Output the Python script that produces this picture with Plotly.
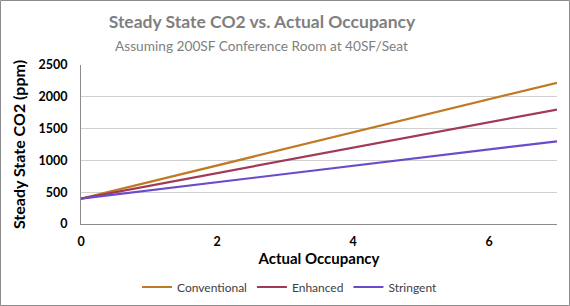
import plotly.graph_objects as go

# occupancy vs steady-state CO2 (ppm)
OCCUPANCY = [0, 1, 2, 3, 4, 5, 6, 7]
CONVENTIONAL = [400, 660, 920, 1180, 1440, 1700, 1960, 2220]
ENHANCED = [400, 600, 800, 1000, 1200, 1400, 1600, 1800]
STRINGENT = [400, 529, 657, 786, 914, 1043, 1171, 1300]

SERIES = [
    ("Conventional", CONVENTIONAL, "#C07A25"),
    ("Enhanced", ENHANCED, "#A23A55"),
    ("Stringent", STRINGENT, "#6A4BC9"),
]

FONT = "Lato, 'Open Sans', sans-serif"
TEXT = "#000000"
TITLE_GREY = "#7F7F7F"
GRID = "#D0D0D0"

W, H = 570, 306
L, R, T, B = 81, 13, 65, 82

fig = go.Figure()
for name, ys, color in SERIES:
    fig.add_trace(go.Scatter(
        x=OCCUPANCY, y=ys, mode="lines", name=name,
        line=dict(color=color, width=2.2),
    ))

pw, ph = W - L - R, H - T - B
fig.update_layout(
    width=W, height=H,
    margin=dict(l=L, r=R, t=T, b=B, autoexpand=False),
    paper_bgcolor="white", plot_bgcolor="white",
    font=dict(family=FONT, color=TEXT, size=11),
    title=dict(
        text="<b>Steady State CO2 vs. Actual Occupancy</b>",
        x=262 / W, xref="container", xanchor="center",
        y=1 - 22 / H, yref="container", yanchor="middle",
        font=dict(size=17.5, color=TITLE_GREY, family=FONT),
    ),
    annotations=[dict(
        text="Assuming 200SF Conference Room at 40SF/Seat",
        xref="paper", yref="paper",
        x=(261 - L) / pw, y=1 + (T - 45) / ph,
        xanchor="center", yanchor="middle", showarrow=False,
        font=dict(size=13.7, color=TITLE_GREY, family=FONT),
    )],
    xaxis=dict(
        range=[0, 7], tickvals=[0, 2, 4, 6], showgrid=False, zeroline=False,
        showline=True, linecolor="#8C8C8C", linewidth=1, automargin=False,
        tickfont=dict(size=12.5, color=TEXT, family=FONT, weight="bold"),
        ticklabelstandoff=6,
        title=dict(text="<b>Actual Occupancy</b>", font=dict(size=15), standoff=4),
        ticks="", ticklen=0,
    ),
    yaxis=dict(
        range=[0, 2500], dtick=500, showgrid=True, gridcolor=GRID, gridwidth=1,
        zeroline=False, showline=True, linecolor="#8C8C8C", linewidth=1,
        automargin=False,
        tickfont=dict(size=12.5, color=TEXT, family=FONT, weight="bold"),
        ticklabelstandoff=10,
        title=dict(text="<b>Steady State CO2 (ppm)</b>", font=dict(size=16), standoff=8),
        ticks="",
    ),
    legend=dict(
        orientation="h", x=(290 - L) / pw, xanchor="center",
        y=-(287 - (H - B)) / ph, yanchor="middle",
        font=dict(size=12, color="#404040"), itemwidth=30,
        bgcolor="rgba(0,0,0,0)",
    ),
    showlegend=True,
)

# thin grey frame around the whole chart
fig.add_shape(
    type="rect", xref="paper", yref="paper",
    x0=-(L - 0.5) / pw, x1=1 + (R - 0.5) / pw,
    y0=-(B - 0.5) / ph, y1=1 + (T - 0.5) / ph,
    line=dict(color="#8C8C8C", width=1), layer="below",
)

fig.write_html("out.html", config={"displayModeBar": False},
               post_script="document.body.style.margin='0';")
